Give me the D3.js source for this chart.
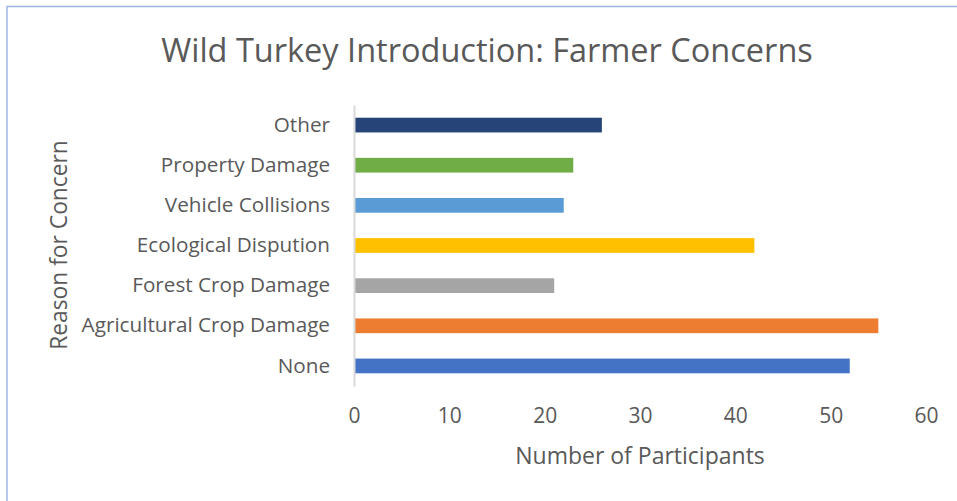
<!DOCTYPE html>
<html>
<head>
<meta charset="utf-8">
<script src="https://cdn.jsdelivr.net/npm/d3@7"></script>
<style>
  body { margin: 0; background: #fff; }
  text { font-family: "Open Sans", sans-serif; fill: #595959; }
</style>
</head>
<body>
<script>
var width = 957, height = 501;

// data, bottom to top as in the chart
var categories = ["None", "Agricultural Crop Damage", "Forest Crop Damage", "Ecological Dispution", "Vehicle Collisions", "Property Damage", "Other"];
var values = [52, 55, 21, 42, 22, 23, 26];
var barColors = ["#4472c4", "#ed7d31", "#a5a5a5", "#ffc000", "#5b9bd5", "#70ad47", "#264478"];
var xTicks = [0, 10, 20, 30, 40, 50, 60];

var svg = d3.select("body").append("svg")
    .attr("width", width)
    .attr("height", height);

// chart border (runs off the right and bottom edge)
svg.append("rect")
    .attr("x", 7).attr("y", 6.5)
    .attr("width", 980).attr("height", 520)
    .attr("fill", "none")
    .attr("stroke", "#9db5e3")
    .attr("stroke-width", 1.5);

var x = d3.scaleLinear().domain([0, 60]).range([354, 926]);
var y = d3.scaleBand()
    .domain(categories.slice().reverse())
    .range([105, 386])
    .paddingInner(0.633)
    .paddingOuter(0.3165);

// bars
svg.selectAll("rect.bar")
  .data(categories)
  .enter()
  .append("rect")
  .attr("class", "bar")
  .attr("x", x(0))
  .attr("y", function(d) { return y(d); })
  .attr("width", function(d, i) { return x(values[i]) - x(0); })
  .attr("height", y.bandwidth())
  .attr("fill", function(d, i) { return barColors[i]; });

// y axis: line + labels
var yAxis = svg.append("g")
    .attr("transform", "translate(" + x(0) + ",0)")
    .call(d3.axisLeft(y).tickSize(0).tickPadding(24));
yAxis.select(".domain").attr("stroke", "#d9d9d9").attr("stroke-width", 2);
yAxis.selectAll("text").attr("font-size", 20.7).attr("fill", "#595959")
    .style("font-family", "'Open Sans', sans-serif");

// x axis: labels only
var xAxis = svg.append("g")
    .attr("transform", "translate(0,386)")
    .call(d3.axisBottom(x).tickValues(xTicks).tickSize(0).tickPadding(22));
xAxis.select(".domain").remove();
xAxis.selectAll("text").attr("font-size", 21).attr("fill", "#595959")
    .style("font-family", "'Open Sans', sans-serif");

// title
svg.append("text")
  .attr("x", 487)
  .attr("y", 62)
  .attr("text-anchor", "middle")
  .attr("font-size", 32.5)
  .text("Wild Turkey Introduction: Farmer Concerns");

// axis titles
svg.append("text")
  .attr("x", 640)
  .attr("y", 464)
  .attr("text-anchor", "middle")
  .attr("font-size", 23)
  .text("Number of Participants");

svg.append("text")
  .attr("transform", "translate(67,245) rotate(-90)")
  .attr("text-anchor", "middle")
  .attr("font-size", 22.8)
  .text("Reason for Concern");
</script>
</body>
</html>
